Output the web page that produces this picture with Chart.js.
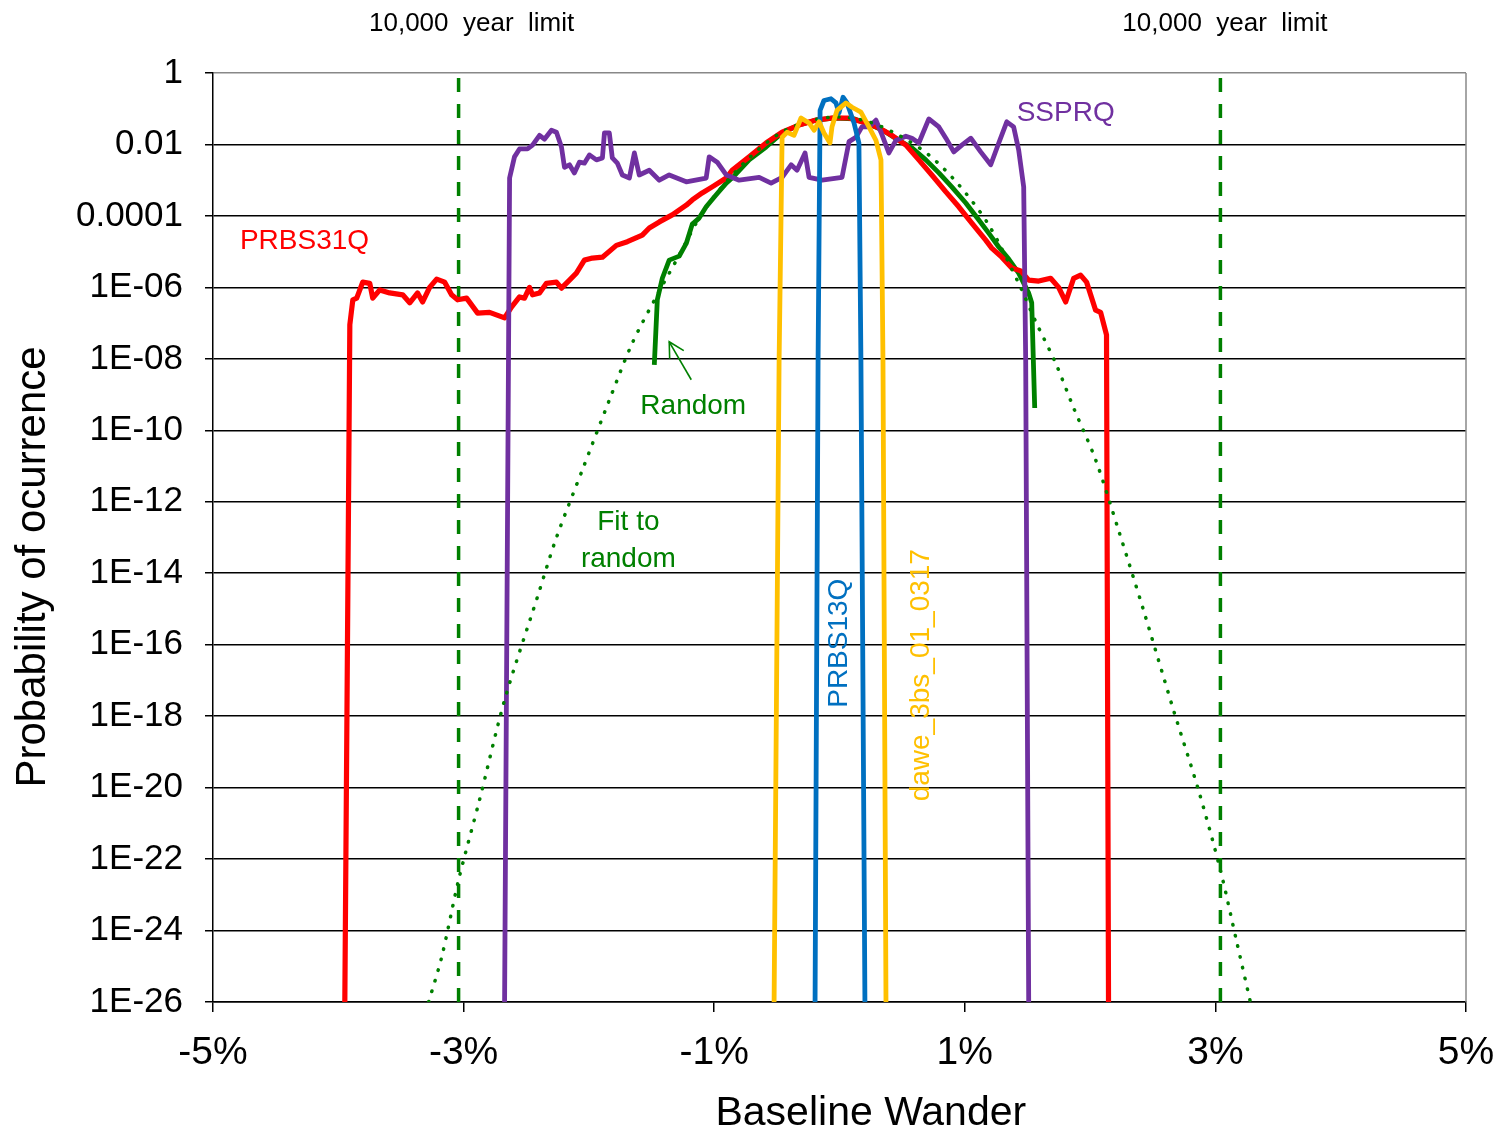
<!DOCTYPE html>
<html><head><meta charset="utf-8">
<script src="https://cdn.jsdelivr.net/npm/chart.js@4.4.1/dist/chart.umd.min.js"></script>
<style>html,body{margin:0;padding:0;background:#fff;}#wrap{width:1504px;height:1134px;}</style>
</head><body><div id="wrap"><canvas id="c" width="1504" height="1134"></canvas></div>
<script>
const FONT = '"Liberation Sans", Arial, Helvetica, sans-serif';

// ---- tick values / labels ----
const xTickValues = [-5, -3, -1, 1, 3, 5];
const xTickLabels = ['-5%', '-3%', '-1%', '1%', '3%', '5%'];
const yTickValues = [1, 1e-2, 1e-4, 1e-6, 1e-8, 1e-10, 1e-12, 1e-14, 1e-16, 1e-18, 1e-20, 1e-22, 1e-24, 1e-26];
const yTickLabels = ['1', '0.01', '0.0001', '1E-06', '1E-08', '1E-10', '1E-12', '1E-14', '1E-16', '1E-18', '1E-20', '1E-22', '1E-24', '1E-26'];

// ---- series (x in %, y probability) ----
const prbs31qX = [-3.948,-3.908,-3.884,-3.853,-3.805,-3.749,-3.725,-3.669,-3.590,-3.486,-3.430,-3.367,-3.327,-3.271,-3.215,-3.151,-3.096,-3.048,-2.976,-2.888,-2.793,-2.673,-2.618,-2.554,-2.514,-2.474,-2.450,-2.394,-2.339,-2.259,-2.219,-2.155,-2.100,-2.036,-1.972,-1.892,-1.781,-1.693,-1.574,-1.518,-1.438,-1.335,-1.223,-1.175,-1.096,-1.016,-0.904,-0.857,-0.721,-0.586,-0.458,-0.323,-0.187,-0.060,0.076,0.211,0.315,0.418,0.530,0.633,0.737,0.849,0.952,1.056,1.167,1.215,1.295,1.375,1.446,1.510,1.590,1.685,1.749,1.805,1.869,1.924,1.972,2.044,2.084,2.131,2.147];
const prbs31qY = [1e-26,9e-8,4.5e-7,5e-7,1.4e-6,1.3e-6,5e-7,8.5e-7,7e-7,6.2e-7,3.7e-7,7e-7,3.9e-7,1e-6,1.7e-6,1.4e-6,6.2e-7,4.5e-7,5e-7,1.9e-7,2e-7,1.4e-7,2.8e-7,5.4e-7,5e-7,1e-6,6.2e-7,7e-7,1.3e-6,1.4e-6,9.5e-7,1.6e-6,2.5e-6,5.8e-6,6.6e-6,7e-6,1.5e-5,1.9e-5,2.9e-5,4.6e-5,6.8e-5,1.07e-4,2e-4,2.8e-4,4.4e-4,6.5e-4,1.15e-3,1.9e-3,4.5e-3,1.1e-2,2.2e-2,3.5e-2,4.8e-2,5.5e-2,5.5e-2,4e-2,2.9e-2,1.8e-2,9.6e-3,3.7e-3,1.4e-3,4.7e-4,1.8e-4,6.3e-5,2.1e-5,1.26e-5,7e-6,3.5e-6,2.9e-6,1.6e-6,1.5e-6,1.8e-6,1e-6,3.9e-7,1.8e-6,2.2e-6,1.4e-6,2.3e-7,2e-7,4.7e-8,1e-26];

const ssprqX = [-2.673,-2.633,-2.594,-2.554,-2.490,-2.450,-2.394,-2.355,-2.299,-2.259,-2.219,-2.195,-2.155,-2.116,-2.076,-2.036,-1.996,-1.940,-1.892,-1.876,-1.837,-1.813,-1.773,-1.733,-1.677,-1.637,-1.598,-1.518,-1.438,-1.359,-1.223,-1.064,-1.040,-0.976,-0.904,-0.801,-0.641,-0.546,-0.458,-0.386,-0.339,-0.275,-0.243,-0.139,0.020,0.076,0.131,0.179,0.235,0.291,0.331,0.394,0.450,0.530,0.578,0.633,0.713,0.793,0.849,0.912,0.976,1.048,1.127,1.207,1.271,1.335,1.390,1.430,1.470,1.486,1.510];
const ssprqY = [1e-26,1.15e-3,4.5e-3,7.5e-3,7.5e-3,9.6e-3,1.8e-2,1.4e-2,2.5e-2,2.2e-2,8.5e-3,2.3e-3,2.7e-3,1.6e-3,3.2e-3,3e-3,5.1e-3,3.7e-3,4.2e-3,2.1e-2,2.1e-2,4.2e-3,3e-3,1.4e-3,1.15e-3,5.8e-3,1.4e-3,1.9e-3,1e-3,1.4e-3,9e-4,1.15e-3,4.5e-3,3.2e-3,1.4e-3,1e-3,1.2e-3,8.3e-4,1.2e-3,2.7e-3,1.9e-3,5.8e-3,1.2e-3,1e-3,1.2e-3,1.2e-2,1.6e-2,3.1e-2,3.1e-2,4.8e-2,2.2e-2,5.8e-3,1.3e-2,1.7e-2,1.5e-2,1.1e-2,5.2e-2,3.1e-2,1.5e-2,6.2e-3,9.6e-3,1.5e-2,6.2e-3,2.7e-3,1.1e-2,4.3e-2,3.1e-2,7e-3,6.5e-4,9e-9,1e-26];

const prbs13qX = [-0.195,-0.171,-0.155,-0.124,-0.068,-0.028,-0.004,0.028,0.060,0.116,0.155,0.171,0.203];
const prbs13qY = [1e-26,9e-9,9e-2,0.17,0.19,0.145,7.6e-2,0.21,0.145,4e-2,1.1e-2,9e-9,1e-26];

const daweX = [-0.522,-0.482,-0.458,-0.418,-0.363,-0.307,-0.243,-0.203,-0.163,-0.124,-0.076,-0.060,-0.020,0.052,0.100,0.171,0.235,0.291,0.331,0.347,0.371];
const daweY = [1e-26,9e-9,1.6e-2,2.2e-2,1.8e-2,5.5e-2,4e-2,2.5e-2,4.3e-2,2.1e-2,1.1e-2,3.1e-2,9e-2,0.145,0.11,8e-2,3.1e-2,1.3e-2,3.7e-3,9e-9,1e-26];

const randomX = [-1.478,-1.454,-1.414,-1.359,-1.279,-1.223,-1.175,-1.120,-1.064,-0.984,-0.904,-0.857,-0.721,-0.586,-0.458,-0.323,-0.187,-0.044,0.116,0.235,0.355,0.474,0.578,0.689,0.793,0.896,1.008,1.112,1.191,1.271,1.351,1.430,1.510,1.534,1.558];
const randomY = [6.8e-9,4.5e-7,1.8e-6,5.8e-6,7.5e-6,1.7e-5,5.9e-5,8.7e-5,1.8e-4,3.9e-4,8.3e-4,1.15e-3,3.7e-3,8.5e-3,2.1e-2,3.5e-2,4.8e-2,5.5e-2,5.2e-2,3.7e-2,2.4e-2,1.3e-2,8e-3,3.7e-3,1.6e-3,6.5e-4,2.3e-4,7.7e-5,3.3e-5,1.35e-5,6.2e-6,2.5e-6,6.9e-7,3.7e-7,4.2e-10];

const fitX = [-3.279,-3.175,-3.040,-2.873,-2.673,-2.410,-2.259,-2.052,-1.837,-1.653,-1.454,-1.279,-1.120,-0.960,-0.721,-0.482,-0.243,-0.004,0.235,0.474,0.713,0.952,1.191,1.430,1.566,1.725,1.869,2.044,2.227,2.426,2.665,2.865,3.040,3.167,3.279];
const fitY = [1e-26,1.8e-25,2.6e-23,4.5e-21,2.8e-18,2.2e-15,1e-13,7.8e-12,7e-10,2.8e-8,6.2e-7,8e-6,8.7e-5,5.3e-4,4.2e-3,2e-2,4.5e-2,5.9e-2,4.3e-2,1.8e-2,5.1e-3,7.4e-4,5.6e-5,1.3e-6,1.1e-7,7.6e-9,4.2e-10,1.5e-11,1.6e-13,9.3e-16,1.5e-18,8.5e-21,4.9e-23,5.4e-25,1e-26];

const limitX = [-3.04, 3.04];
const limitY = [1e-26, 1];

const pts = (X, Y) => X.map((v, i) => ({x: v, y: Y[i]}));

const RED = '#FF0000', PURPLE = '#7030A0', BLUE = '#0070C0', YELLOW = '#FFC000', GREEN = '#008000';

const datasets = [
  {label:'dawe_3bs_01_0317', data: pts(daweX, daweY), borderColor: YELLOW, borderWidth: 4.8, order: 1},
  {label:'PRBS13Q', data: pts(prbs13qX, prbs13qY), borderColor: BLUE, borderWidth: 4.8, order: 2},
  {label:'Fit to random', data: pts(fitX, fitY), borderColor: GREEN, borderWidth: 3.5, borderDash: [0.5, 10.5], borderCapStyle: 'round', tension: 0.3, order: 3},
  {label:'SSPRQ', data: pts(ssprqX, ssprqY), borderColor: PURPLE, borderWidth: 4.8, order: 4},
  {label:'PRBS31Q', data: pts(prbs31qX, prbs31qY), borderColor: RED, borderWidth: 5.2, order: 5},
  {label:'Random', data: pts(randomX, randomY), borderColor: GREEN, borderWidth: 4.8, order: 6},
  {label:'limitL', data: [{x: limitX[0], y: limitY[0]}, {x: limitX[0], y: limitY[1]}], borderColor: GREEN, borderWidth: 3.5, borderDash: [14, 12], order: 7},
  {label:'limitR', data: [{x: limitX[1], y: limitY[0]}, {x: limitX[1], y: limitY[1]}], borderColor: GREEN, borderWidth: 3.5, borderDash: [14, 12], order: 7}
];
datasets.forEach(d => { d.showLine = true; d.pointRadius = 0; d.fill = false; d.borderJoinStyle = 'round'; if (d.tension === undefined) d.tension = 0; });

// ---- text annotations (data coords, or pixel offsets outside plot) ----
const notes = [
  {text: 'PRBS31Q', x: -4.785, y: 1.9e-5, color: RED, size: 28, align: 'left'},
  {text: 'SSPRQ', x: 1.414, y: 0.075, color: PURPLE, size: 28, align: 'left'},
  {text: 'Random', x: -1.167, y: 4.8e-10, color: GREEN, size: 28},
  {text: 'Fit to', x: -1.685, y: 2.6e-13, color: GREEN, size: 28},
  {text: 'random', x: -1.685, y: 2.5e-14, color: GREEN, size: 28},
  {text: 'PRBS13Q', x: 0.0, y: 1.1e-16, color: BLUE, size: 28, rot: -Math.PI / 2},
  {text: 'dawe_3bs_01_0317', x: 0.649, y: 1.4e-17, color: YELLOW, size: 28, rot: -Math.PI / 2}
];
const topNotes = [
  {text: '10,000  year  limit', x: -2.936},
  {text: '10,000  year  limit', x: 3.076}
];
const arrow = {tipX: -1.359, tipY: 3e-8, tailX: -1.183, tailY: 2.6e-9};

const decor = {
  id: 'decor',
  afterDatasetsDraw(chart) {
    const {ctx, chartArea: a, scales: {x, y}} = chart;
    ctx.save();
    // right border (grey)
    ctx.strokeStyle = '#888888'; ctx.lineWidth = 1.5;
    ctx.beginPath(); ctx.moveTo(a.right, a.top); ctx.lineTo(a.right, a.bottom); ctx.stroke();
    // arrow
    const tx = x.getPixelForValue(arrow.tipX), ty = y.getPixelForValue(arrow.tipY);
    const sx = x.getPixelForValue(arrow.tailX), sy = y.getPixelForValue(arrow.tailY);
    ctx.strokeStyle = GREEN; ctx.lineWidth = 1.6;
    ctx.beginPath(); ctx.moveTo(sx, sy); ctx.lineTo(tx, ty); ctx.stroke();
    const ang = Math.atan2(sy - ty, sx - tx);
    const L = 17, w = 0.5;
    ctx.beginPath();
    ctx.moveTo(tx + L * Math.cos(ang - w), ty + L * Math.sin(ang - w));
    ctx.lineTo(tx, ty);
    ctx.lineTo(tx + L * Math.cos(ang + w), ty + L * Math.sin(ang + w));
    ctx.stroke();
    // text
    ctx.textBaseline = 'middle';
    notes.forEach(t => {
      ctx.save();
      ctx.font = t.size + 'px ' + FONT;
      ctx.fillStyle = t.color;
      ctx.textAlign = t.align || 'center';
      ctx.translate(x.getPixelForValue(t.x), y.getPixelForValue(t.y));
      if (t.rot) ctx.rotate(t.rot);
      ctx.fillText(t.text, 0, 0);
      ctx.restore();
    });
    ctx.font = '26px ' + FONT; ctx.fillStyle = '#000'; ctx.textAlign = 'center';
    topNotes.forEach(t => ctx.fillText(t.text, x.getPixelForValue(t.x), a.top - 49));
    // axis titles
    ctx.font = '41px ' + FONT;
    ctx.fillText('Baseline Wander', x.getPixelForValue(0.25), a.bottom + 112);
    ctx.save();
    ctx.font = '42px ' + FONT;
    ctx.translate(33, y.getPixelForValue(1.5e-14));
    ctx.rotate(-Math.PI / 2);
    ctx.fillText('Probability of ocurrence', 0, 0);
    ctx.restore();
    ctx.restore();
  }
};

new Chart(document.getElementById('c'), {
  type: 'scatter',
  data: {datasets},
  plugins: [decor],
  options: {
    responsive: false, animation: false, devicePixelRatio: 1,
    layout: {padding: {left: 0, right: 38, top: 73, bottom: 0}},
    plugins: {legend: {display: false}, tooltip: {enabled: false}},
    elements: {point: {radius: 0}},
    scales: {
      x: {
        type: 'linear', min: -5, max: 5,
        afterBuildTicks: s => { s.ticks = xTickValues.map(v => ({value: v})); },
        afterFit: s => { s.height = 132; s.paddingLeft = 0; s.paddingRight = 0; },
        ticks: {callback: (v, i) => xTickLabels[i], font: {family: FONT, size: 39}, color: '#000', padding: 18, maxRotation: 0, autoSkip: false},
        grid: {drawOnChartArea: false, drawTicks: true, tickLength: 10, color: '#000', lineWidth: 1.5},
        border: {display: true, color: '#000', width: 1.5}
      },
      y: {
        type: 'logarithmic', min: 1e-26, max: 1,
        afterBuildTicks: s => { s.ticks = yTickValues.map(v => ({value: v})); },
        afterFit: s => { s.width = 213; s.paddingTop = 0; s.paddingBottom = 0; },
        ticks: {callback: (v, i) => yTickLabels[i], font: {family: FONT, size: 35}, color: '#000', padding: 22, autoSkip: false},
        grid: {color: c => (c.tick && c.tick.value === 1) ? '#888888' : '#000', tickColor: '#000', lineWidth: 1.5, tickLength: 8, drawTicks: true},
        border: {display: true, color: '#000', width: 1.5}
      }
    }
  }
});
</script>
</body></html>
